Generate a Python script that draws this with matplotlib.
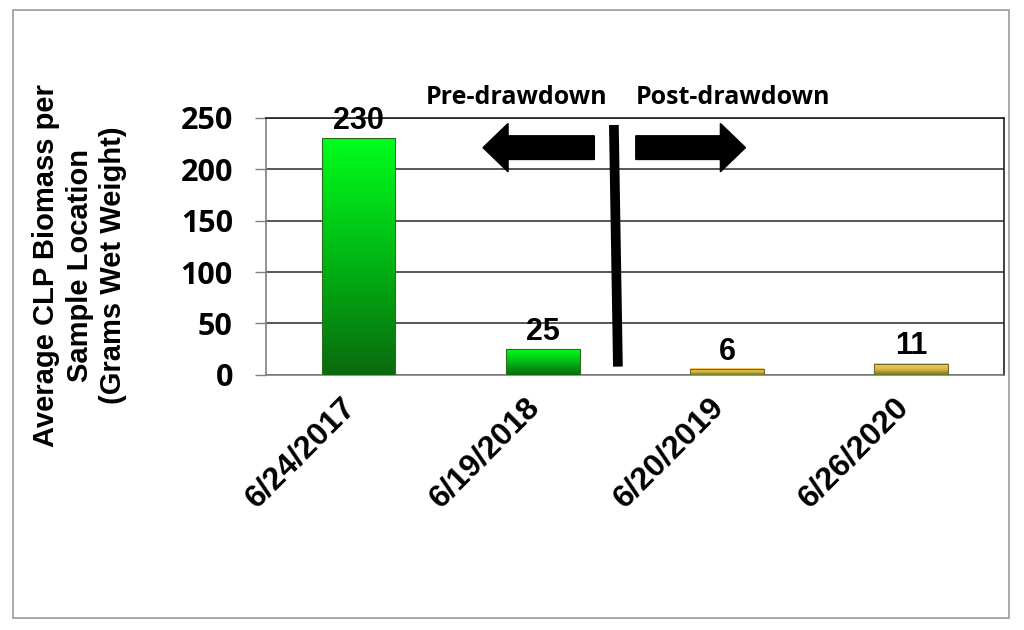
import numpy as np
import matplotlib
matplotlib.use("Agg")
import matplotlib.pyplot as plt
from matplotlib.colors import LinearSegmentedColormap
from matplotlib.patches import FancyArrow, Rectangle
from matplotlib.transforms import ScaledTranslation

# data
dates = ["6/24/2017", "6/19/2018", "6/20/2019", "6/26/2020"]
biomass = [230, 25, 6, 11]
bar_style = ["green", "green", "gold", "gold"]

green_cm = LinearSegmentedColormap.from_list("g", ["#0b6a0e", "#00b814", "#00ff1c"])
gold_cm = LinearSegmentedColormap.from_list(
    "y", [(0, "#5f7a22"), (0.45, "#d9b040"), (1, "#ffd76c")])

fig = plt.figure(figsize=(10.24, 6.3), dpi=100)
ax = fig.add_axes([0.26, 0.405, 0.72, 0.408])

x = np.arange(len(dates))
w = 0.4
grad = np.linspace(0, 1, 256).reshape(-1, 1)
for xi, val, st in zip(x, biomass, bar_style):
    cm = green_cm if st == "green" else gold_cm
    ax.imshow(grad, extent=[xi - w / 2, xi + w / 2, 0, val], aspect="auto",
              cmap=cm, origin="lower", zorder=3, interpolation="bicubic")
    edge = "#2d6b1f" if st == "green" else "#6b6a2a"
    ax.add_patch(Rectangle((xi - w / 2, 0), w, val, fill=False, ec=edge, lw=0.8, zorder=4))
    ax.text(xi, val + 2, str(val), ha="center", va="bottom", fontsize=22,
            fontweight="bold", family="Liberation Sans", zorder=5)

ax.set_xlim(-0.5, len(dates) - 0.5)
ax.set_ylim(0, 250)
ax.set_yticks([0, 50, 100, 150, 200, 250])
ax.yaxis.grid(True, color="#3a3a3a", lw=1.2, zorder=0)
ax.set_axisbelow(True)

for lab in ax.get_yticklabels():
    lab.set_family("Open Sans")
    lab.set_fontweight("bold")
    lab.set_fontsize(22)
ax.tick_params(axis="y", length=8, width=1, color="#808080", pad=16)

ax.set_xticks(x)
ax.set_xticklabels(dates, rotation=45, ha="right", va="top", rotation_mode="anchor",
                   fontsize=23, fontweight="bold", family="Liberation Sans")
ax.tick_params(axis="x", length=0, pad=12)
shift = ScaledTranslation(-0.18, 0, fig.dpi_scale_trans)
for lab in ax.get_xticklabels():
    lab.set_transform(lab.get_transform() + shift)

for s in ["left", "bottom"]:
    ax.spines[s].set_color("#808080")
ax.spines["right"].set_color("#202020")
ax.spines["top"].set_color("#202020")
for s in ax.spines.values():
    s.set_linewidth(1.2)

# drawdown divider and arrows
ax.plot([1.386, 1.408], [243, 8], color="black", lw=7, solid_capstyle="butt",
        clip_on=False, zorder=6)
ax.add_patch(FancyArrow(1.28, 221, -0.604, 0, width=23, head_width=47,
                        head_length=0.136, length_includes_head=True,
                        color="black", zorder=6, clip_on=False))
ax.add_patch(FancyArrow(1.505, 221, 0.595, 0, width=23, head_width=47,
                        head_length=0.136, length_includes_head=True,
                        color="black", zorder=6, clip_on=False))
ax.text(0.86, 270, "Pre-drawdown", ha="center", va="center", fontsize=18,
        fontweight="bold", family="Open Sans", clip_on=False)
ax.text(2.03, 270, "Post-drawdown", ha="center", va="center", fontsize=18,
        fontweight="bold", family="Open Sans", clip_on=False)

fig.text(0.078, 0.579, "Average CLP Biomass per\nSample Location\n(Grams Wet Weight)",
         rotation=90, ha="center", va="center", multialignment="center",
         fontsize=21, fontweight="bold", family="Liberation Sans", linespacing=1.25)

fig.add_artist(Rectangle((0.013, 0.019), 0.972, 0.965, transform=fig.transFigure,
                         fill=False, ec="#9a9a9a", lw=1.2))

fig.savefig("out.png", dpi=100)
